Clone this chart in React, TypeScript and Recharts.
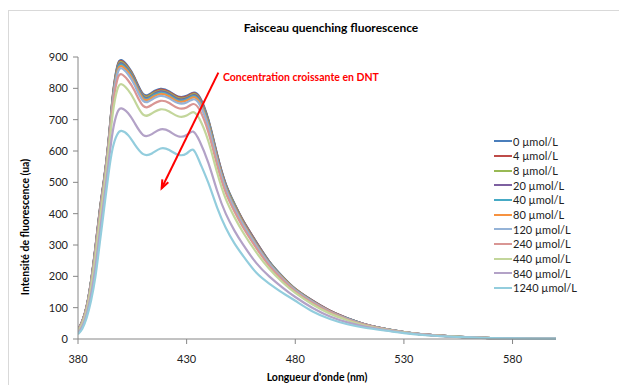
import { LineChart, Line, XAxis, YAxis, ReferenceLine } from 'recharts';

// wavelength grid (nm)
const wavelength = [380, 382, 384, 386, 388, 390, 392, 394, 396, 398, 400, 403, 406, 410, 414, 418, 422, 426, 430, 433, 436, 440, 444, 448, 452, 456, 462, 468, 474, 480, 488, 496, 504, 512, 520, 530, 540, 550, 560, 570, 580, 590, 600];

// fluorescence intensity (ua) for each DNT concentration
const c0 = [30, 58, 105, 185, 292, 410, 510, 628, 775, 868, 890, 870, 835, 782, 786, 798, 790, 774, 776, 786, 772, 700, 590, 495, 432, 378, 310, 248, 200, 160, 122, 90, 66, 47, 34, 22, 14, 9, 5, 3, 2, 1, 1];
const c4 = [30, 58, 105, 184, 291, 409, 509, 627, 773, 865, 887, 867, 832, 779, 783, 796, 788, 772, 774, 784, 769, 697, 588, 493, 430, 377, 309, 247, 199, 160, 122, 90, 66, 47, 34, 22, 14, 9, 5, 3, 2, 1, 1];
const c8 = [30, 57, 104, 183, 289, 407, 507, 625, 770, 862, 884, 864, 829, 777, 781, 793, 785, 769, 771, 781, 766, 695, 585, 491, 429, 375, 307, 246, 199, 159, 121, 89, 65, 47, 34, 22, 14, 9, 5, 3, 2, 1, 1];
const c20 = [29, 57, 103, 182, 288, 405, 506, 623, 768, 858, 880, 860, 826, 774, 777, 790, 782, 766, 768, 778, 763, 691, 583, 489, 426, 373, 306, 245, 198, 158, 121, 89, 65, 47, 34, 22, 14, 9, 5, 3, 2, 1, 1];
const c40 = [29, 56, 103, 181, 286, 403, 504, 622, 765, 855, 876, 856, 822, 770, 774, 786, 778, 762, 765, 775, 759, 688, 580, 486, 424, 371, 304, 244, 197, 158, 120, 88, 65, 46, 34, 22, 14, 9, 5, 3, 2, 1, 1];
const c80 = [29, 56, 102, 180, 284, 401, 502, 619, 761, 850, 871, 852, 817, 766, 770, 782, 774, 758, 761, 771, 755, 683, 576, 483, 421, 369, 302, 242, 196, 157, 119, 88, 64, 46, 33, 22, 14, 9, 5, 3, 2, 1, 1];
const c120 = [28, 55, 101, 178, 281, 398, 499, 616, 756, 843, 864, 845, 811, 760, 764, 776, 768, 753, 755, 765, 748, 677, 570, 479, 417, 365, 299, 240, 194, 156, 118, 87, 64, 46, 33, 22, 14, 9, 5, 3, 2, 1, 1];
const c240 = [27, 53, 98, 172, 273, 389, 491, 608, 742, 825, 845, 826, 793, 744, 747, 760, 753, 737, 739, 750, 731, 660, 556, 467, 407, 356, 291, 234, 190, 152, 115, 85, 62, 45, 33, 21, 14, 9, 5, 3, 2, 1, 1];
const c440 = [25, 49, 92, 164, 260, 374, 478, 593, 719, 794, 813, 795, 762, 716, 720, 733, 726, 711, 713, 724, 701, 631, 532, 447, 389, 340, 277, 224, 182, 147, 110, 81, 60, 43, 32, 21, 13, 9, 5, 3, 2, 1, 1];
const c840 = [20, 41, 80, 142, 228, 338, 445, 558, 663, 721, 736, 721, 690, 651, 654, 669, 663, 647, 651, 662, 631, 562, 474, 400, 346, 301, 243, 200, 165, 134, 99, 72, 53, 40, 30, 20, 13, 8, 5, 3, 2, 1, 1];
const c1240 = [15, 33, 68, 122, 198, 305, 415, 525, 610, 652, 664, 651, 622, 590, 592, 608, 603, 588, 592, 604, 565, 498, 420, 355, 305, 265, 212, 177, 148, 122, 88, 64, 47, 36, 28, 19, 12, 8, 5, 3, 2, 1, 1];

const seriesValues = [c0, c4, c8, c20, c40, c80, c120, c240, c440, c840, c1240];
const seriesLabels = ['0 µmol/L', '4 µmol/L', '8 µmol/L', '20 µmol/L', '40 µmol/L', '80 µmol/L', '120 µmol/L', '240 µmol/L', '440 µmol/L', '840 µmol/L', '1240 µmol/L'];

const xTicks = [380, 430, 480, 530, 580];
const yTicks = [0, 100, 200, 300, 400, 500, 600, 700, 800, 900];

// annotation arrow, in data units: [from, to]
const arrowFrom = { x: 444.6, y: 850 };
const arrowTo = { x: 418.5, y: 481 };

const COLORS = ['#4A7EBB', '#BE4B48', '#98B954', '#7D60A0', '#46AAC5', '#F69240', '#95B3D7', '#D99694', '#C3D69B', '#B3A2C7', '#93CDDD'];

const data = wavelength.map((wl, i) => {
  const row: Record<string, number> = { wl };
  seriesValues.forEach((vals, s) => {
    row['s' + s] = vals[i];
  });
  return row;
});

const FONT = 'Lato, "Open Sans", sans-serif';

function Arrow(props: any) {
  const { x1, y1, x2, y2 } = props;
  const ang = Math.atan2(y2 - y1, x2 - x1);
  const len = 9;
  const spread = 0.38;
  const ax = x2 - len * Math.cos(ang - spread);
  const ay = y2 - len * Math.sin(ang - spread);
  const bx = x2 - len * Math.cos(ang + spread);
  const by = y2 - len * Math.sin(ang + spread);
  return (
    <g>
      <line x1={x1} y1={y1} x2={x2} y2={y2} stroke="#ff0000" strokeWidth={2} />
      <polyline points={`${ax},${ay} ${x2},${y2} ${bx},${by}`} fill="none" stroke="#ff0000" strokeWidth={2} />
    </g>
  );
}

export default function App() {
  return (
    <div style={{ position: 'absolute', left: 0, top: 0, width: 619, height: 385, overflow: 'hidden', background: '#fff', fontFamily: FONT }}>
      <div style={{ position: 'absolute', left: 8, top: 10, width: 700, height: 500, border: '1px solid #d9d9d9' }} />

      <div style={{ position: 'absolute', left: 131, width: 400, top: 20, textAlign: 'center', fontSize: 12, fontWeight: 700, color: '#000', lineHeight: '16px' }}>
        Faisceau quenching fluorescence
      </div>

      <LineChart
        width={619}
        height={385}
        data={data}
        margin={{ top: 57, right: 63, bottom: 0, left: 0 }}
        style={{ position: 'absolute', left: 0, top: 0 }}
      >
        <XAxis
          dataKey="wl"
          type="number"
          domain={[380, 600]}
          ticks={xTicks}
          allowDataOverflow
          height={46}
          stroke="#868686"
          tickSize={5}
          tickMargin={11}
          tick={{ fontSize: 11, fill: '#222', fontFamily: FONT }}
        />
        <YAxis
          type="number"
          domain={[0, 900]}
          ticks={yTicks}
          width={78}
          stroke="#868686"
          tickSize={5}
          tickMargin={5}
          tick={{ fontSize: 11, fill: '#222', fontFamily: FONT }}
        />
        {seriesValues.map((_, s) => (
          <Line
            key={s}
            type="natural"
            dataKey={'s' + s}
            name={seriesLabels[s]}
            stroke={COLORS[s]}
            strokeWidth={2.2}
            dot={false}
            isAnimationActive={false}
          />
        ))}
        <ReferenceLine
          segment={[arrowFrom, arrowTo]}
          stroke="#ff0000"
          shape={(p: any) => <Arrow {...p} />}
        />
      </LineChart>

      <div style={{ position: 'absolute', left: 223, top: 69, fontSize: 10.5, fontWeight: 700, color: '#ff0000', lineHeight: '16px', whiteSpace: 'nowrap' }}>
        Concentration croissante en DNT
      </div>

      <div
        style={{
          position: 'absolute',
          left: 24.5,
          top: 227,
          transform: 'translate(-50%, -50%) rotate(-90deg)',
          fontSize: 10.5,
          fontWeight: 700,
          whiteSpace: 'nowrap',
          color: '#000',
        }}
      >
        Intensité de fluorescence (ua)
      </div>

      <div style={{ position: 'absolute', left: 117, width: 400, top: 369, textAlign: 'center', fontSize: 10.5, fontWeight: 700, color: '#000', lineHeight: '16px' }}>
        Longueur d'onde (nm)
      </div>

      <div style={{ position: 'absolute', left: 494, top: 134 }}>
        {seriesLabels.map((label, s) => (
          <div key={s} style={{ display: 'flex', alignItems: 'center', height: 14.66, fontSize: 11, color: '#222', whiteSpace: 'nowrap' }}>
            <span style={{ display: 'inline-block', width: 18, height: 2, background: COLORS[s], marginRight: 1 }} />
            {label}
          </div>
        ))}
      </div>
    </div>
  );
}
